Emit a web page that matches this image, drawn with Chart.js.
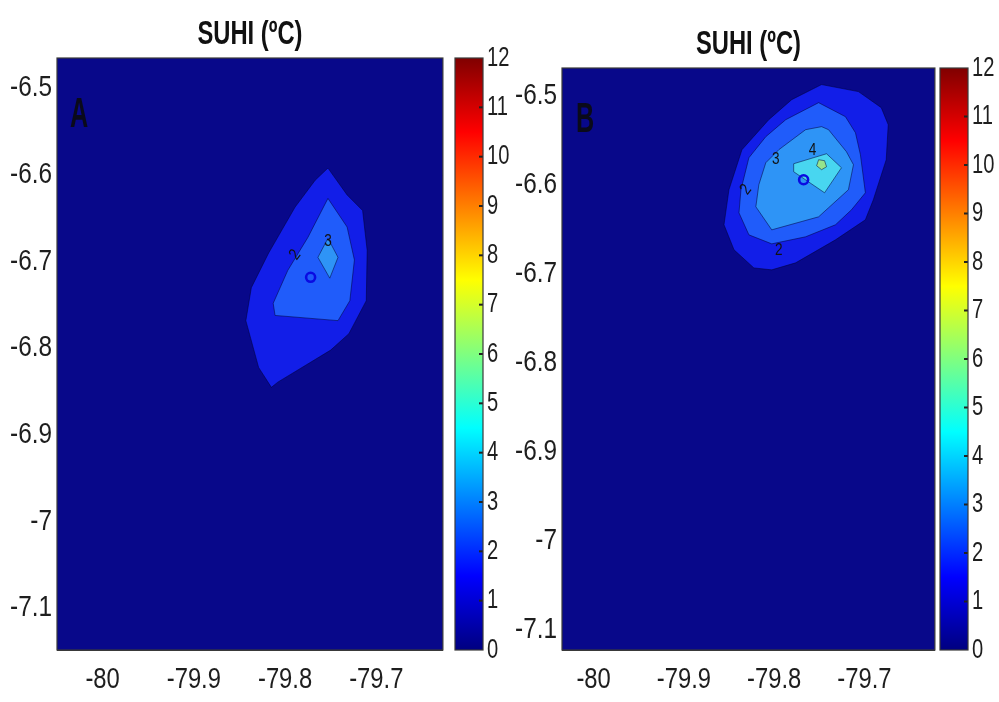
<!DOCTYPE html>
<html><head><meta charset="utf-8">
<script src="https://cdn.jsdelivr.net/npm/chart.js@4/dist/chart.umd.min.js"></script>
<style>
html,body{margin:0;padding:0;background:#fff;width:999px;height:702px;overflow:hidden}
.box{position:absolute}
</style></head><body>
<div class="box" style="left:0;top:0;width:450px;height:702px"><canvas id="pa"></canvas></div>
<div class="box" style="left:440px;top:0;width:80px;height:702px"><canvas id="ca"></canvas></div>
<div class="box" style="left:505px;top:0;width:437px;height:702px"><canvas id="pb"></canvas></div>
<div class="box" style="left:925px;top:0;width:74px;height:702px"><canvas id="cb"></canvas></div>
<script>
// ---------- data ----------
const titleText = 'SUHI (ºC)';
const xTicks = [-80, -79.9, -79.8, -79.7];
const yTicks = [-6.5, -6.6, -6.7, -6.8, -6.9, -7, -7.1];
const cbarTicks = [0,1,2,3,4,5,6,7,8,9,10,11,12];
const cbarRange = [0, 12];
// jet colormap stops (value, rgb)
const jetStops = [[0,[0,0,128]],[1.5,[0,0,255]],[4.5,[0,255,255]],[7.5,[255,255,0]],[10.5,[255,0,0]],[12,[128,0,0]]];

// grid extent (lon, lat)
const extentAx = [-80.05, -79.627];
const extentAy = [-7.148, -6.465];
const extentBx = [-80.035, -79.622];
const extentBy = [-7.122, -6.469];

// Panel A contour polygons (SUHI >= 1, 2, 3 °C)
const contourA1 = [[-79.753,-6.592],[-79.732,-6.623],[-79.715,-6.641],[-79.710,-6.687],[-79.711,-6.745],[-79.730,-6.783],[-79.750,-6.802],[-79.808,-6.839],[-79.815,-6.845],[-79.829,-6.822],[-79.843,-6.768],[-79.837,-6.730],[-79.818,-6.690],[-79.789,-6.637],[-79.767,-6.606]];
const contourA2 = [[-79.753,-6.627],[-79.732,-6.660],[-79.724,-6.698],[-79.729,-6.745],[-79.742,-6.768],[-79.811,-6.762],[-79.813,-6.748],[-79.797,-6.710],[-79.775,-6.672]];
const contourA3 = [[-79.753,-6.673],[-79.742,-6.695],[-79.751,-6.719],[-79.764,-6.695]];
const cityA = [[-79.772,-6.718]];
const labelsA = [[-79.753,-6.677,'3',0],[-79.789,-6.692,'2',-0.9]];

// Panel B contour polygons (SUHI >= 1..5 °C)
const contourB1 = [[-79.7475,-6.4876],[-79.7067,-6.4955],[-79.6814,-6.5135],[-79.6737,-6.5326],[-79.6759,-6.5719],[-79.6902,-6.6169],[-79.6990,-6.6393],[-79.7321,-6.6618],[-79.7762,-6.6876],[-79.8027,-6.6955],[-79.8225,-6.6933],[-79.8445,-6.6730],[-79.8556,-6.6449],[-79.8501,-6.6056],[-79.8357,-6.5607],[-79.8060,-6.5270],[-79.7806,-6.5045]];
const contourB2 = [[-79.7508,-6.5079],[-79.7211,-6.5236],[-79.7100,-6.5416],[-79.7045,-6.5663],[-79.6990,-6.6090],[-79.7144,-6.6281],[-79.7321,-6.6449],[-79.7652,-6.6584],[-79.8027,-6.6663],[-79.8280,-6.6562],[-79.8390,-6.6315],[-79.8368,-6.6056],[-79.8280,-6.5697],[-79.8093,-6.5461],[-79.7872,-6.5270]];
const contourB3 = [[-79.7475,-6.5348],[-79.7398,-6.5382],[-79.7200,-6.5629],[-79.7122,-6.5775],[-79.7178,-6.6056],[-79.7398,-6.6258],[-79.7508,-6.6360],[-79.8027,-6.6506],[-79.8203,-6.6247],[-79.8170,-6.6000],[-79.8093,-6.5753],[-79.7949,-6.5607],[-79.7652,-6.5382]];
const contourB4 = [[-79.7784,-6.5764],[-79.7420,-6.5652],[-79.7255,-6.5809],[-79.7442,-6.6090],[-79.7784,-6.5854]];
const contourB5 = [[-79.7508,-6.5719],[-79.7442,-6.5730],[-79.7420,-6.5798],[-79.7475,-6.5831],[-79.7530,-6.5787]];
const cityB = [[-79.7674,-6.5944]];
const labelsB = [[-79.7982,-6.5719,'3',0],[-79.7574,-6.5618,'4',0],[-79.8313,-6.6056,'2',-0.9],[-79.7949,-6.6730,'2',0]];

// ---------- styles ----------
const levelColors = ['rgb(8,8,138)','rgb(18,30,232)','rgb(32,92,250)','rgb(46,148,246)','rgb(72,214,240)','rgb(150,228,140)'];
const FONT = "'Liberation Sans Narrow','Arial Narrow','Liberation Sans',Arial,sans-serif";
Chart.defaults.font.family = FONT;
Chart.defaults.color = '#222';
const fmt = v => String(Math.round(v * 10) / 10);

function jetGradient(ctx, y0, y1) {
  const g = ctx.createLinearGradient(0, y0, 0, y1);
  const span = cbarRange[1] - cbarRange[0];
  jetStops.forEach(([v, c]) => g.addColorStop((v - cbarRange[0]) / span, `rgb(${c[0]},${c[1]},${c[2]})`));
  return g;
}

function poly(pts, level) {
  const data = pts.concat([pts[0]]).map(p => ({x: p[0], y: p[1]}));
  return {data, fill: 'shape', backgroundColor: levelColors[level],
    borderColor: level === 0 ? 'rgba(0,0,0,0)' : 'rgba(0,0,50,0.5)', borderWidth: level === 0 ? 0 : 1,
    pointRadius: 0, tension: 0, order: 20 - level};
}
function rect(ex, ey) {
  return [[ex[0], ey[0]], [ex[1], ey[0]], [ex[1], ey[1]], [ex[0], ey[1]]];
}

// condensed text drawn at positions from the chart's own scales
function condText(ctx, txt, x, y, font, sx, align) {
  ctx.save();
  ctx.translate(x, y); ctx.scale(sx, 1);
  ctx.font = font; ctx.textAlign = align; ctx.textBaseline = 'middle';
  ctx.fillText(txt, 0, 0);
  ctx.restore();
}

const axisText = {
  id: 'axisText',
  afterDraw(chart, args, o) {
    const {ctx, chartArea: a} = chart;
    ctx.save(); ctx.fillStyle = '#1e1e1e';
    (o.items || []).forEach(it => {
      const s = chart.scales[it.id];
      s.ticks.forEach(t => {
        const p = s.getPixelForValue(t.value), lab = fmt(t.value);
        if (it.side === 'bottom') condText(ctx, lab, p, a.bottom + it.gap, it.font, it.sx, 'center');
        else if (it.side === 'left') condText(ctx, lab, a.left - it.gap, p, it.font, it.sx, 'right');
        else condText(ctx, lab, a.right + it.gap, p, it.font, it.sx, 'left');
      });
    });
    if (o.title) {
      ctx.fillStyle = '#111';
      condText(ctx, o.title, (a.left + a.right) / 2, a.top - o.titleGap, "bold 33px " + FONT, 0.72, 'center');
    }
    ctx.restore();
  }
};

const overlay = {
  id: 'overlay',
  afterDatasetsDraw(chart, args, opts) {
    const {ctx, chartArea: a, scales} = chart;
    ctx.save();
    ctx.beginPath(); ctx.rect(a.left, a.top, a.right - a.left, a.bottom - a.top); ctx.clip();
    ctx.fillStyle = '#111';
    (opts.labels || []).forEach(([x, y, t, r]) => {
      ctx.save();
      ctx.translate(scales.x.getPixelForValue(x), scales.y.getPixelForValue(y));
      ctx.rotate(r); ctx.scale(0.8, 1);
      ctx.font = "17px " + FONT; ctx.textAlign = 'center'; ctx.textBaseline = 'middle';
      ctx.fillText(t, 0, 0);
      ctx.restore();
    });
    if (opts.letter) {
      ctx.fillStyle = '#0a0a1a';
      condText(ctx, opts.letter, a.left + opts.letterDx, a.top + opts.letterDy, "bold 42px " + FONT, 0.6, 'center');
    }
    ctx.restore();
  },
  afterDraw(chart) {
    const {ctx, chartArea: a} = chart;
    ctx.save();
    ctx.strokeStyle = '#3a3a3a'; ctx.lineWidth = 1.2;
    ctx.strokeRect(a.left, a.top, a.right - a.left, a.bottom - a.top);
    ctx.restore();
  }
};

function panel(id, cfg) {
  return new Chart(document.getElementById(id), {
    type: 'line',
    data: {datasets: [
      poly(rect(cfg.ex, cfg.ey), 0),
      ...cfg.contours.map((c, i) => poly(c, i + 1)),
      {data: cfg.city.map(p => ({x: p[0], y: p[1]})), showLine: false, pointRadius: 4.5, pointBorderWidth: 2.6,
       pointBorderColor: 'rgb(10,10,225)', pointBackgroundColor: 'rgba(0,0,0,0)', order: 0}
    ]},
    plugins: [overlay, axisText],
    options: {
      responsive: true, maintainAspectRatio: false, animation: false,
      layout: {padding: {left: 0, right: 5, top: cfg.top, bottom: 0}},
      plugins: {
        legend: {display: false}, tooltip: {enabled: false}, title: {display: false},
        overlay: {letter: cfg.letter, labels: cfg.labels, letterDx: cfg.ldx, letterDy: cfg.ldy},
        axisText: {title: titleText, titleGap: 23, items: [
          {id: 'x', side: 'bottom', gap: 30, font: "29px " + FONT, sx: 0.82},
          {id: 'y', side: 'left', gap: 5, font: "29px " + FONT, sx: 0.84}]}
      },
      scales: {
        x: {type: 'linear', min: cfg.ex[0], max: cfg.ex[1], z: 1,
          afterBuildTicks: s => { s.ticks = xTicks.map(v => ({value: v})); },
          afterFit: s => { s.height = 52; },
          ticks: {display: false, autoSkip: false},
          grid: {color: 'rgba(0,0,0,0.4)', lineWidth: 1, drawTicks: false},
          border: {display: true, color: '#3a3a3a'}},
        y: {type: 'linear', min: cfg.ey[0], max: cfg.ey[1], z: 1,
          afterBuildTicks: s => { s.ticks = yTicks.map(v => ({value: v})); },
          afterFit: s => { s.width = 57; },
          ticks: {display: false, autoSkip: false},
          grid: {color: 'rgba(0,0,0,0.4)', lineWidth: 1, drawTicks: false},
          border: {display: true, color: '#3a3a3a'}}
      }
    }
  });
}

const cbarMarks = {
  id: 'cbarMarks',
  afterDraw(chart) {
    const {ctx, chartArea: a, scales} = chart;
    ctx.save();
    ctx.strokeStyle = '#222'; ctx.lineWidth = 2;
    cbarTicks.forEach(v => {
      if (v === cbarRange[0] || v === cbarRange[1]) return;
      const y = scales.y.getPixelForValue(v);
      ctx.beginPath(); ctx.moveTo(a.right - 4, y); ctx.lineTo(a.right, y); ctx.stroke();
    });
    ctx.strokeStyle = '#3a3a3a'; ctx.lineWidth = 1.2;
    ctx.strokeRect(a.left, a.top, a.right - a.left, a.bottom - a.top);
    ctx.restore();
  }
};

function colorbar(id, padLeft, top, yw) {
  return new Chart(document.getElementById(id), {
    type: 'bar',
    data: {labels: ['SUHI'], datasets: [{data: [cbarRange.slice()], borderWidth: 0, borderSkipped: false,
      barPercentage: 1, categoryPercentage: 1,
      backgroundColor: c => {
        const ch = c.chart; if (!ch.chartArea) return 'rgba(0,0,0,0)';
        return jetGradient(ch.ctx, ch.scales.y.getPixelForValue(cbarRange[0]), ch.scales.y.getPixelForValue(cbarRange[1]));
      }}]},
    plugins: [cbarMarks, axisText],
    options: {
      responsive: true, maintainAspectRatio: false, animation: false,
      layout: {padding: {left: padLeft, right: 0, top: top, bottom: 52}},
      plugins: {legend: {display: false}, tooltip: {enabled: false},
        axisText: {items: [{id: 'y', side: 'right', gap: 4, font: "28px " + FONT, sx: 0.72}]}},
      scales: {
        x: {display: false},
        y: {position: 'right', min: cbarRange[0], max: cbarRange[1],
          afterBuildTicks: s => { s.ticks = cbarTicks.map(v => ({value: v})); },
          afterFit: s => { s.width = yw; },
          ticks: {display: false, autoSkip: false},
          grid: {display: false}, border: {display: false}}
      }
    }
  });
}

panel('pa', {ex: extentAx, ey: extentAy, contours: [contourA1, contourA2, contourA3], city: cityA, labels: labelsA, letter: 'A', top: 58, ldx: 22, ldy: 57});
panel('pb', {ex: extentBx, ey: extentBy, contours: [contourB1, contourB2, contourB3, contourB4, contourB5], city: cityB, labels: labelsB, letter: 'B', top: 68, ldx: 23, ldy: 52});
colorbar('ca', 15, 58, 37);
colorbar('cb', 15, 68, 31);
</script>
</body></html>
